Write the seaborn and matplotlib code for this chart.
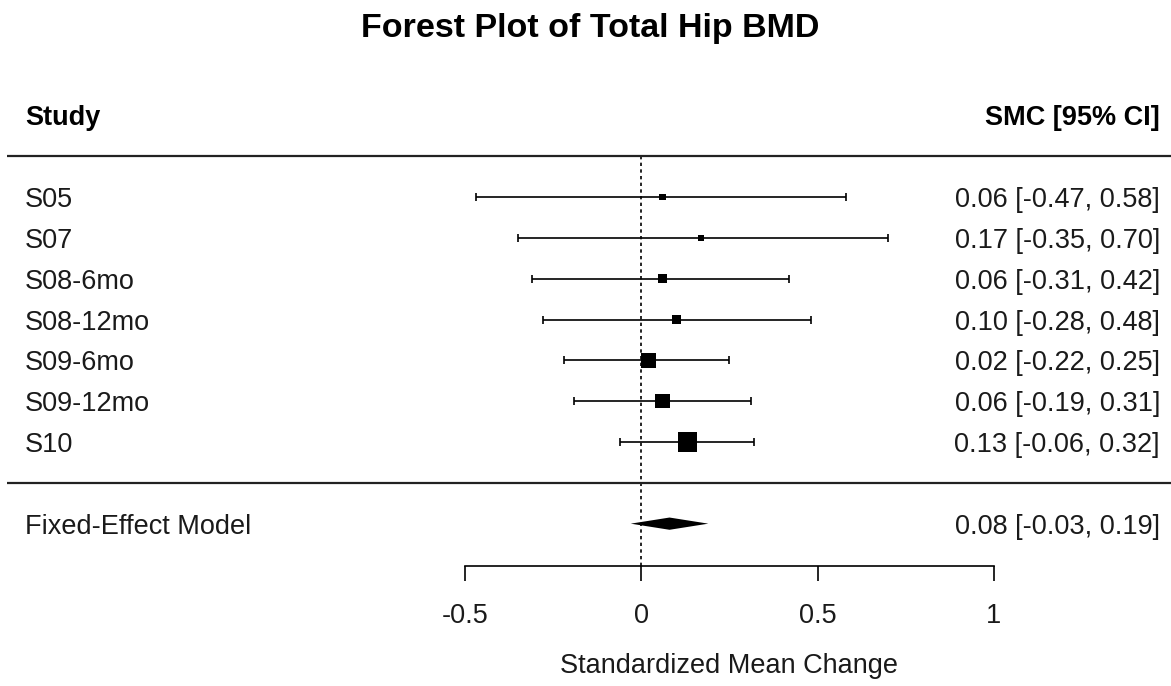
import numpy as np
import pandas as pd
import matplotlib
matplotlib.use("Agg")
import matplotlib.pyplot as plt
import seaborn as sns

# ---- data ----
studies = ["S05", "S07", "S08-6mo", "S08-12mo", "S09-6mo", "S09-12mo", "S10"]
smc = [0.06, 0.17, 0.06, 0.10, 0.02, 0.06, 0.13]
ci_lo = [-0.47, -0.35, -0.31, -0.28, -0.22, -0.19, -0.06]
ci_hi = [0.58, 0.70, 0.42, 0.48, 0.25, 0.31, 0.32]
fe_label = "Fixed-Effect Model"
fe_est = 0.08
fe_lo = -0.03
fe_hi = 0.19
x_ticks = [-0.5, 0, 0.5, 1]
x_tick_labels = ["-0.5", "0", "0.5", "1"]
title = "Forest Plot of Total Hip BMD"
xlabel = "Standardized Mean Change"
hdr_left = "Study"
hdr_right = "SMC [95% CI]"

sns.set_theme(style="white")
plt.rcParams["font.family"] = ["Liberation Sans", "DejaVu Sans"]
plt.rcParams["axes.unicode_minus"] = False

k = len(studies)
df = pd.DataFrame({"study": studies, "est": smc, "lo": ci_lo, "hi": ci_hi})
df["row"] = np.arange(k, 0, -1)
# marker size from precision (metafor default: 1/sqrt(vi), rescaled to 0.5..1.5)
se = (df["hi"] - df["lo"]) / (2 * 1.96)
prec = 1 / se
norm = (prec - prec.min()) / (prec.max() - prec.min()) + 0.5
side_pt = 12.67 * norm * 0.72
df["area"] = side_pt ** 2

W, H = 1171, 686
fig = plt.figure(figsize=(W / 100, H / 100), dpi=100)
ax = fig.add_axes([0, 0, 1, 1])
ax.set_facecolor("white")

# pixel -> data calibration
x0px, xscale = 641.3, 352.7
y1px, yscale = 442.0, 40.83
xmin, xmax = (0 - x0px) / xscale, (W - x0px) / xscale
ymax, ymin = 1 + y1px / yscale, 1 - (H - y1px) / yscale
ax.set_xlim(xmin, xmax)
ax.set_ylim(ymin, ymax)
axis_y = 1 - (566 - y1px) / yscale

# CIs
ax.errorbar(df["est"], df["row"], xerr=[df["est"] - df["lo"], df["hi"] - df["est"]],
            fmt="none", ecolor="black", elinewidth=1.2, capsize=3.0, capthick=1.2, zorder=2)
# squares
sns.scatterplot(data=df, x="est", y="row", size="area",
                sizes=(df["area"].min(), df["area"].max()),
                marker="s", color="black", linewidth=0, legend=False, ax=ax, zorder=3)
ax.set_ylabel("")

# summary diamond
yd = -1
hh = 0.15
ax.fill([fe_lo, fe_est, fe_hi, fe_est], [yd, yd + hh, yd, yd - hh],
        color="black", lw=0, zorder=3)

# reference and separator lines
ax.vlines(0, axis_y, k + 1, colors="black", linestyles=(0, (2, 2)), lw=1.2, zorder=1)
xl = xmin + 7 / xscale
ax.hlines([k + 1, 0], xl, xmax, colors="#222222", lw=1.6)

# text columns
fs = 19.5
xlab = xmin + 25 / xscale
xr = xmin + 1160 / xscale
for _, r in df.iterrows():
    ax.text(xlab, r["row"], r["study"], ha="left", va="center_baseline", fontsize=fs, color="#1a1a1a")
    ax.text(xr, r["row"], f"{r['est']:.2f} [{r['lo']:.2f}, {r['hi']:.2f}]",
            ha="right", va="center_baseline", fontsize=fs, color="#1a1a1a")
ax.text(xlab, yd, fe_label, ha="left", va="center_baseline", fontsize=fs, color="#1a1a1a")
ax.text(xr, yd, f"{fe_est:.2f} [{fe_lo:.2f}, {fe_hi:.2f}]", ha="right",
        va="center_baseline", fontsize=fs, color="#1a1a1a")
ax.text(xlab, k + 2, hdr_left, ha="left", va="center_baseline", fontsize=fs,
        fontweight="bold", color="black")
ax.text(xr, k + 2, hdr_right, ha="right", va="center_baseline", fontsize=fs,
        fontweight="bold", color="black")

# x axis
for s in ["left", "right", "top"]:
    ax.spines[s].set_visible(False)
ax.spines["bottom"].set_visible(True)
ax.spines["bottom"].set_color("black")
ax.spines["bottom"].set_linewidth(1.2)
ax.spines["bottom"].set_position(("data", axis_y))
ax.spines["bottom"].set_bounds(x_ticks[0], x_ticks[-1])
ax.set_yticks([])
ax.set_xticks(x_ticks)
ax.set_xticklabels(x_tick_labels)
ax.tick_params(axis="x", bottom=True, direction="out", length=10.8, width=1.2,
               color="black", labelsize=fs, pad=16, labelcolor="#1a1a1a")
ax.set_xlabel(xlabel, fontsize=fs, color="#1a1a1a")
ax.xaxis.set_label_coords((x_ticks[0] + x_ticks[-1]) / 2, 1 - (653 - y1px) / yscale,
                          transform=ax.transData)
ax.xaxis.label.set_va("top")

fig.text(590 / W, 1 - 37 / H, title, ha="center", va="baseline", fontsize=24.5,
         fontweight="bold", color="black")

fig.savefig("out.png", dpi=100, facecolor="white")
